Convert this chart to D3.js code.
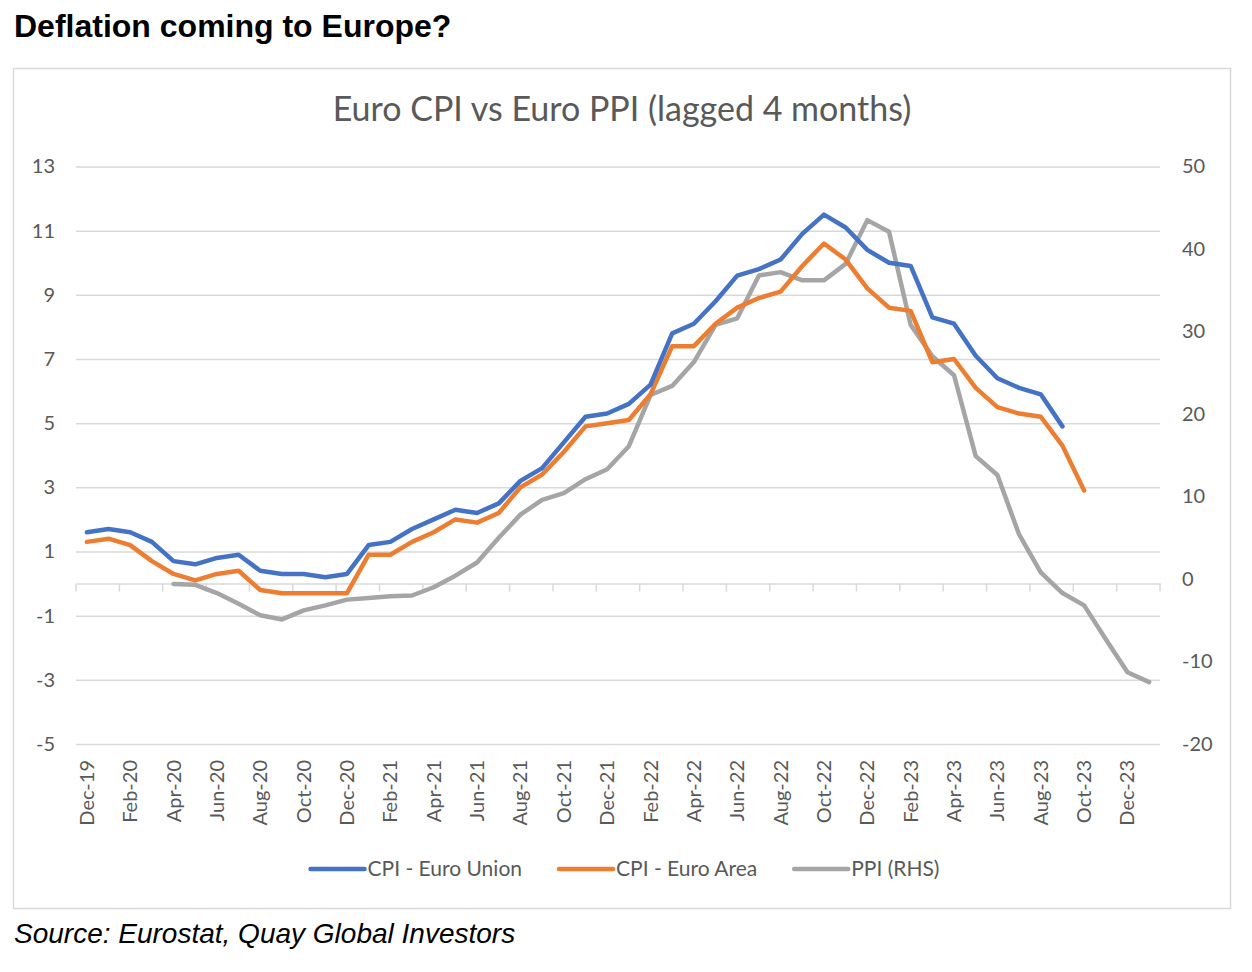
<!DOCTYPE html>
<html>
<head>
<meta charset="utf-8">
<script src="https://cdn.jsdelivr.net/npm/d3@7"></script>
<style>
  body { margin: 0; background: #fff; }
  svg { display: block; }
</style>
</head>
<body>
<div class="chart"></div>
<script>
// months on the category axis (Dec-19 .. Jan-24)
var months = ["Dec-19","Jan-20","Feb-20","Mar-20","Apr-20","May-20","Jun-20","Jul-20","Aug-20","Sep-20","Oct-20","Nov-20",
  "Dec-20","Jan-21","Feb-21","Mar-21","Apr-21","May-21","Jun-21","Jul-21","Aug-21","Sep-21","Oct-21","Nov-21",
  "Dec-21","Jan-22","Feb-22","Mar-22","Apr-22","May-22","Jun-22","Jul-22","Aug-22","Sep-22","Oct-22","Nov-22",
  "Dec-22","Jan-23","Feb-23","Mar-23","Apr-23","May-23","Jun-23","Jul-23","Aug-23","Sep-23","Oct-23","Nov-23",
  "Dec-23","Jan-24"];

// CPI - Euro Union, Dec-19 .. Sep-23
var cpiUnion = [1.6,1.7,1.6,1.3,0.7,0.6,0.8,0.9,0.4,0.3,0.3,0.2,0.3,1.2,1.3,1.7,2.0,2.3,2.2,2.5,3.2,3.6,4.4,5.2,
  5.3,5.6,6.2,7.8,8.1,8.8,9.6,9.8,10.1,10.9,11.5,11.1,10.4,10.0,9.9,8.3,8.1,7.1,6.4,6.1,5.9,4.9];

// CPI - Euro Area, Dec-19 .. Oct-23
var cpiArea = [1.3,1.4,1.2,0.7,0.3,0.1,0.3,0.4,-0.2,-0.3,-0.3,-0.3,-0.3,0.9,0.9,1.3,1.6,2.0,1.9,2.2,3.0,3.4,4.1,4.9,
  5.0,5.1,5.9,7.4,7.4,8.1,8.6,8.9,9.1,9.9,10.6,10.1,9.2,8.6,8.5,6.9,7.0,6.1,5.5,5.3,5.2,4.3,2.9];

// PPI (RHS), lagged 4 months, Apr-20 .. Jan-24
var ppiStart = "Apr-20";
var ppi = [-0.6,-0.7,-1.7,-3.0,-4.4,-4.9,-3.8,-3.2,-2.5,-2.3,-2.1,-2.0,-1.0,0.4,2.0,5.0,7.8,9.6,10.4,12.1,13.3,16.1,
  22.3,23.4,26.3,30.8,31.6,36.8,37.2,36.2,36.2,38.2,43.5,42.1,30.8,27.0,24.7,14.9,12.6,5.4,0.8,-1.7,-3.2,-7.3,-11.3,-12.5];

var leftTicks = [-5,-3,-1,1,3,5,7,9,11,13];
var rightTicks = [-20,-10,0,10,20,30,40,50];

var seriesNames = ["CPI - Euro Union", "CPI - Euro Area", "PPI (RHS)"];
var seriesColors = ["#4472C4", "#ED7D31", "#A5A5A5"];

var svgWidth = 1252;
var svgHeight = 972;
var plot = { left: 76, right: 1160, top: 166.5, bottom: 744 };
var labelFont = "Lato, 'Open Sans', sans-serif";
var textGrey = "#595959";

var svg = d3.select(".chart").append("svg")
    .attr("width", svgWidth).attr("height", svgHeight);

svg.append("rect").attr("width", svgWidth).attr("height", svgHeight).attr("fill", "#fff");

// page heading and source note
svg.append("text")
    .attr("x", 14).attr("y", 37)
    .attr("font-family", "'Liberation Sans', Arial, sans-serif")
    .attr("font-weight", "bold").attr("font-size", 32)
    .attr("fill", "#000")
    .text("Deflation coming to Europe?");

svg.append("text")
    .attr("x", 14).attr("y", 943)
    .attr("font-family", "'Liberation Sans', Arial, sans-serif")
    .attr("font-style", "italic").attr("font-size", 28)
    .attr("fill", "#000")
    .text("Source: Eurostat, Quay Global Investors");

// chart frame
svg.append("rect")
    .attr("x", 13.5).attr("y", 68.5)
    .attr("width", 1217).attr("height", 840)
    .attr("fill", "none").attr("stroke", "#d9d9d9").attr("stroke-width", 1.5);

svg.append("text")
    .attr("x", 622).attr("y", 121)
    .attr("text-anchor", "middle")
    .attr("font-family", labelFont).attr("font-size", 34)
    .attr("fill", textGrey)
    .text("Euro CPI vs Euro PPI (lagged 4 months)");

// scales
var x = d3.scaleBand().domain(months).range([plot.left, plot.right]).padding(0);
var yLeft = d3.scaleLinear().domain([-5, 13]).range([plot.bottom, plot.top]);
var yRight = d3.scaleLinear().domain([-20, 50]).range([plot.bottom, plot.top]);
var xc = function(m) { return x(m) + x.bandwidth() / 2; };
var plainNum = d => String(d);   // Excel uses a plain hyphen for negatives

// left axis + gridlines
var leftAxis = svg.append("g")
    .attr("transform", `translate(${plot.left},0)`)
    .call(d3.axisLeft(yLeft).tickValues(leftTicks).tickFormat(plainNum)
        .tickSize(-(plot.right - plot.left)).tickPadding(21));
leftAxis.select(".domain").remove();
leftAxis.selectAll("line").attr("stroke", "#d9d9d9").attr("stroke-width", 1.5);
leftAxis.selectAll("text")
    .attr("font-family", labelFont).attr("font-size", 20).attr("fill", textGrey);

// right axis
var rightAxis = svg.append("g")
    .attr("transform", `translate(${plot.right},0)`)
    .call(d3.axisRight(yRight).tickValues(rightTicks).tickFormat(plainNum).tickSize(0).tickPadding(22));
rightAxis.select(".domain").remove();
rightAxis.selectAll("text")
    .attr("font-family", labelFont).attr("font-size", 20).attr("fill", textGrey);

// category axis sits at zero on the left scale
var y0 = yLeft(0);
var evenMonths = months.filter((m, i) => i % 2 == 0);

var bottomAxis = svg.append("g")
    .attr("transform", `translate(0,${y0})`)
    .call(d3.axisBottom(x).tickValues(evenMonths).tickSize(0));
bottomAxis.select(".domain")
    .attr("stroke", "#d9d9d9").attr("stroke-width", 1.5);
bottomAxis.selectAll("text")
    .attr("font-family", labelFont).attr("font-size", 20).attr("fill", textGrey)
    .attr("text-anchor", "end")
    .attr("transform", `translate(0,${yLeft(-5) - y0 + 16}) rotate(-90)`)
    .attr("x", 0).attr("y", 0).attr("dy", "0.35em");

// tick marks between every second month
var tickPos = evenMonths.map(m => x(m)).concat([plot.right]);
svg.append("g").selectAll("line")
    .data(tickPos).enter().append("line")
    .attr("x1", d => d).attr("x2", d => d)
    .attr("y1", y0).attr("y2", y0 + 8)
    .attr("stroke", "#d9d9d9").attr("stroke-width", 1.5);

// series lines
var startIdx = months.indexOf(ppiStart);
var series = [
  { data: cpiUnion.map((v, i) => [months[i], v]), y: yLeft, color: seriesColors[0] },
  { data: cpiArea.map((v, i) => [months[i], v]), y: yLeft, color: seriesColors[1] },
  { data: ppi.map((v, i) => [months[startIdx + i], v]), y: yRight, color: seriesColors[2] }
];

// draw gray first so CPI lines sit on top like the original
[2, 1, 0].forEach(function(k) {
    var s = series[k];
    var line = d3.line().x(d => xc(d[0])).y(d => s.y(d[1]));
    svg.append("path")
        .datum(s.data)
        .attr("d", line)
        .attr("fill", "none")
        .attr("stroke", s.color)
        .attr("stroke-width", 4.5)
        .attr("stroke-linejoin", "round")
        .attr("stroke-linecap", "round");
});

// legend
var legend = svg.append("g");
var items = legend.selectAll("g")
    .data(seriesNames).enter().append("g");
items.append("line")
    .attr("x1", 0).attr("x2", 54).attr("y1", 0).attr("y2", 0)
    .attr("stroke", (d, i) => seriesColors[i])
    .attr("stroke-width", 4.5).attr("stroke-linecap", "round");
items.append("text")
    .attr("x", 57).attr("dy", "0.35em")
    .attr("font-family", labelFont).attr("font-size", 21).attr("fill", textGrey)
    .text(d => d);

var offset = 0;
var widths = [];
items.each(function() { widths.push(57 + d3.select(this).select("text").node().getComputedTextLength()); });
var total = d3.sum(widths) + 37 * (widths.length - 1);
var startX = 625 - total / 2;
items.attr("transform", function(d, i) {
    var tx = startX + offset;
    offset += widths[i] + 37;
    return `translate(${tx},869)`;
});
</script>
</body>
</html>
